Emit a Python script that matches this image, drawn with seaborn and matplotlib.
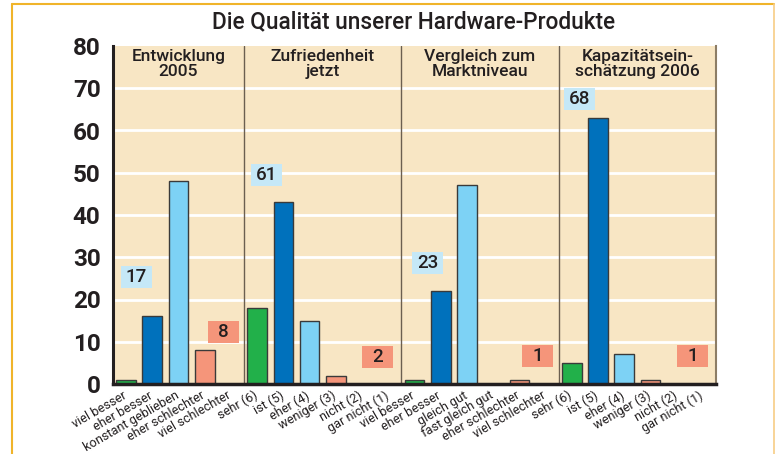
import matplotlib
matplotlib.use("Agg")
import matplotlib.pyplot as plt
import matplotlib.transforms as mtransforms
from matplotlib.lines import Line2D
from matplotlib.patches import Rectangle
import numpy as np
import pandas as pd
import seaborn as sns

title = "Die Qualität unserer Hardware-Produkte"
groups = ["Entwicklung\n2005", "Zufriedenheit\njetzt",
          "Vergleich zum\nMarktniveau", "Kapazitätsein-\nschätzung 2006"]

cats1 = ["viel besser", "eher besser", "konstant geblieben", "eher schlechter", "viel schlechter"]
vals1 = [1, 16, 48, 8, 0]
tones1 = ["pos", "pos2", "mid", "neg", "neg"]

cats2 = ["sehr (6)", "ist (5)", "eher (4)", "weniger (3)", "nicht (2)", "gar nicht (1)"]
vals2 = [18, 43, 15, 2, 0, 0]
tones2 = ["pos", "pos2", "mid", "neg", "neg", "neg"]

cats3 = ["viel besser", "eher besser", "gleich gut", "fast gleich gut", "eher schlechter", "viel schlechter"]
vals3 = [1, 22, 47, 0, 1, 0]
tones3 = ["pos", "pos2", "mid", "mid", "neg", "neg"]

cats4 = ["sehr (6)", "ist (5)", "eher (4)", "weniger (3)", "nicht (2)", "gar nicht (1)"]
vals4 = [5, 63, 7, 1, 0, 0]
tones4 = ["pos", "pos2", "mid", "neg", "neg", "neg"]

# where the summary boxes sit (centre, x in bar slots, y in data units)
pos_box_xy = [(0.4, 25.4), (5.35, 49.4), (11.5, 28.7), (17.3, 67.5)]
neg_box_xy = [(3.7, 12.3), (9.6, 6.4), (15.7, 6.7), (21.6, 6.7)]
box_w, box_h = 1.18, 5.2

tone_colors = {"pos": "#22B04A", "pos2": "#0071BC", "mid": "#7DD2F5", "neg": "#F5957A"}
box_colors = {"pos": "#C5E8F7", "neg": "#F5957A"}
ink = "#231F20"

panels = [(cats1, vals1, tones1), (cats2, vals2, tones2),
          (cats3, vals3, tones3), (cats4, vals4, tones4)]

rows = []
for gi, (cats, vals, tones) in enumerate(panels):
    for ci, (c, v, t) in enumerate(zip(cats, vals, tones)):
        rows.append({"slot": f"{gi}-{ci}", "label": c, "value": v, "tone": t, "group": gi})
df = pd.DataFrame(rows)
n = len(df)

sns.set_style("white")
plt.rcParams["font.family"] = ["Roboto", "DejaVu Sans"]

fig = plt.figure(figsize=(7.76, 4.54), dpi=100)
ax = fig.add_axes([113 / 776, 1 - 384 / 454, (716 - 113) / 776, (384 - 46) / 454])
ax.set_facecolor("#F8E6C4")

for v in range(10, 80, 10):
    ax.axhline(v, color="white", lw=2, zorder=0.5)

sns.barplot(data=df, x="slot", y="value", hue="tone", palette=tone_colors,
            order=df["slot"], dodge=False, width=0.75, saturation=1,
            edgecolor="#3a3a3a", linewidth=1, legend=False, ax=ax, zorder=2)

ax.set_xlim(-0.5, n - 0.5)
ax.set_ylim(0, 80)
ax.set_xlabel("")
ax.set_ylabel("")

ax.set_xticks(range(n))
ax.set_xticklabels(df["label"], rotation=30, ha="right", va="top",
                   rotation_mode="anchor", fontsize=9.2, color=ink)
ax.tick_params(axis="x", which="major", length=0, pad=3.5)
shift = mtransforms.ScaledTranslation(-4 / 100, 0, fig.dpi_scale_trans)
for lab in ax.get_xticklabels():
    lab.set_transform(lab.get_transform() + shift)

# group edges and the small separators inside groups
sizes = df.groupby("group").size().tolist()
edges = np.cumsum(sizes)[:-1] - 0.5
inner = [i + 0.5 for i in range(n - 1) if (i + 0.5) not in edges]
ax.set_xticks(inner, minor=True)
ax.tick_params(axis="x", which="minor", direction="in", length=6, width=1.6, color=ink)
for e in edges:
    ax.axvline(e, color="#6b5f50", lw=1, zorder=1)

yt = list(range(0, 81, 10))
ax.set_yticks(yt, labels=[str(t) for t in yt], fontsize=17.5, fontweight="bold", color=ink)
ax.tick_params(axis="y", direction="in", length=11, width=1.8, color=ink, pad=9)

ax.spines["top"].set_visible(False)
ax.spines["left"].set_color(ink)
ax.spines["left"].set_linewidth(2.2)
ax.spines["bottom"].set_color(ink)
ax.spines["bottom"].set_linewidth(2.5)
ax.spines["right"].set_color("#8c7d66")
ax.spines["right"].set_linewidth(1.5)
for s in ax.spines.values():
    s.set_zorder(3)

# panel headers
starts = [0] + list(np.cumsum(sizes)[:-1])
for g, s0, sz in zip(groups, starts, sizes):
    ax.text(s0 + (sz - 1) / 2, 79.4, g, ha="center", va="top", fontsize=12.5,
            fontweight="medium", color=ink, linespacing=1.0)

# summary boxes
for gi, (cats, vals, tones) in enumerate(panels):
    pos_sum = sum(v for v, t in zip(vals, tones) if t in ("pos", "pos2"))
    neg_sum = sum(v for v, t in zip(vals, tones) if t == "neg")
    for val, (bx, by), key in [(pos_sum, pos_box_xy[gi], "pos"), (neg_sum, neg_box_xy[gi], "neg")]:
        ax.add_patch(Rectangle((bx - box_w / 2, by - box_h / 2), box_w, box_h,
                               fc=box_colors[key], ec="none", zorder=4))
        ax.text(bx, by, str(val), ha="center", va="center", fontsize=13.5,
                fontweight="medium", color=ink, zorder=5)

fig.text(414 / 776, 1 - 22 / 454, title, ha="center", va="center",
         fontsize=16.3, fontweight="medium", color=ink)

# orange frame
fig.add_artist(Line2D([12.5 / 776] * 2, [0, 1 - 4 / 454], transform=fig.transFigure,
                      color="#F0B42A", lw=1.5))
fig.add_artist(Line2D([12.5 / 776, 773.5 / 776], [1 - 4 / 454] * 2, transform=fig.transFigure,
                      color="#F0B42A", lw=1.5))
fig.add_artist(Line2D([773.5 / 776] * 2, [0, 1 - 4 / 454], transform=fig.transFigure,
                      color="#F7CD85", lw=1.2))

fig.savefig("out.png", dpi=100, facecolor="white")
